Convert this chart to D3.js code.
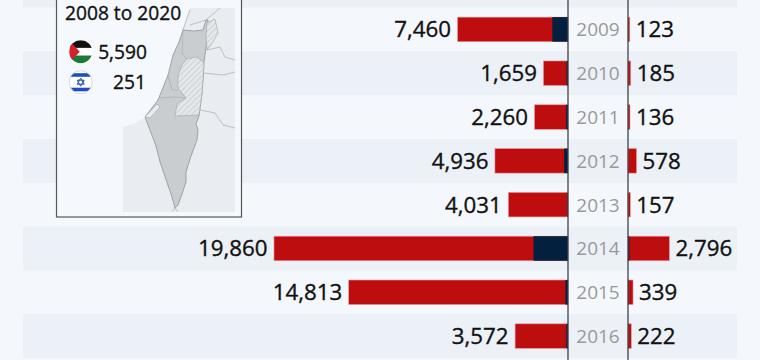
<!DOCTYPE html>
<html>
<head>
<meta charset="utf-8">
<script src="https://cdn.jsdelivr.net/npm/d3@7"></script>
<style>
  html, body { margin: 0; padding: 0; background: #f4f8fc; overflow: hidden; }
  text { font-family: "Open Sans", sans-serif; }
  .heavy { stroke: #111; stroke-width: 0.35px; }
</style>
</head>
<body>
<svg id="chart"></svg>
<script>
// Row layout: 2008 sits mostly above the crop, only its stripe shows
const rowYears = [2008, 2009, 2010, 2011, 2012, 2013, 2014, 2015, 2016];
const years = [2009, 2010, 2011, 2012, 2013, 2014, 2015, 2016];

const palestinianTotal = [7460, 1659, 2260, 4936, 4031, 19860, 14813, 3572];
const palestinianDark = [1060, 95, 125, 260, 40, 2330, 175, 110];
const israeliTotal = [123, 185, 136, 578, 157, 2796, 339, 222];
const israeliDark = [9, 3, 11, 7, 0, 88, 25, 13];

const insetTitle = "2008 to 2020";
const insetPalestinian = "5,590";
const insetIsraeli = "251";

// Outline traces for the inset map (page pixels)
const mapLand = [[123,127],[134,124],[146,117],[158,100],[168,75],[173,55],[179,42],[183,29],[186,18],[190,8],[235,8],[235,212],[123,212]];
const mapIsrael = [[183,30],[194,31],[203,30],[206,20],[208,20],[207,36],[206,48],[204,62],[203,80],[202,93],[200,108],[199,116],[196,124],[198,130],[197,140],[191,156],[186,172],[186,182],[182,194],[178,205],[175,208],[172,197],[160,162],[156,146],[145,117],[158,100],[168,75],[173,55],[179,42]];
const mapWestBank = [[187,59],[197,57],[204,63],[203,80],[202,93],[200,108],[199,115],[175,116],[177,104],[186,98],[178,88],[178,76],[182,65]];
const mapGolan = [[207,23],[215,19],[218,33],[213,42],[207,50],[206,36]];
const mapGaza = [[145,117],[157,104],[160,107],[150,118]];
const mapBorders = [
  [[207,50],[220,47],[225,57],[235,60]],
  [[203,73],[223,75],[235,72]],
  [[200,110],[215,113],[223,125],[235,128]],
  [[183,30],[187,18],[190,10]],
  [[190,25],[206,20],[220,8]],
  [[172,212],[175,208],[178,212]]
];
const mapDistricts = [
  [[183,30],[182,53],[187,59]],
  [[168,75],[172,90],[178,90]],
  [[160,98],[175,97],[186,98]]
];

const width = 760;
const height = 360;
const svg = d3.select("#chart").attr("width", width).attr("height", height);

const rowScale = d3.scaleBand().domain(rowYears).range([-36.3, 358]);
const barScale = d3.scaleBand().domain(rowYears).range([-36.3, 358]).paddingInner(0.44).paddingOuter(0.22);

const leftScale = d3.scaleLinear().domain([0, 19860]).range([568, 274]);
const rightScale = d3.scaleLinear().domain([0, 2796]).range([628, 669.4]);

const red = "#bd0d0f";
const navy = "#04203f";

// Stripes
svg.append("rect").attr("width", width).attr("height", height).attr("fill", "#f4f8fc");
svg.selectAll(".stripe")
  .data(rowYears.filter((d, i) => i % 2 === 0))
  .enter()
  .append("rect")
  .attr("x", 23)
  .attr("width", 714)
  .attr("y", d => rowScale(d))
  .attr("height", rowScale.bandwidth())
  .attr("fill", "#ecf0f7");

const rows = years.map((year, i) => ({
  year,
  leftTotal: palestinianTotal[i],
  leftDark: palestinianDark[i],
  rightTotal: israeliTotal[i],
  rightDark: israeliDark[i]
}));

// Left bars
svg.selectAll(".left-bar")
  .data(rows)
  .enter()
  .append("rect")
  .attr("x", d => leftScale(d.leftTotal))
  .attr("y", d => barScale(d.year))
  .attr("width", d => leftScale(0) - leftScale(d.leftTotal))
  .attr("height", barScale.bandwidth())
  .attr("fill", red)
  .attr("stroke", "#e79a9c")
  .attr("stroke-width", 0.6);

svg.selectAll(".left-dark")
  .data(rows)
  .enter()
  .append("rect")
  .attr("x", d => leftScale(d.leftDark))
  .attr("y", d => barScale(d.year))
  .attr("width", d => leftScale(0) - leftScale(d.leftDark))
  .attr("height", barScale.bandwidth())
  .attr("fill", navy);

// Right bars
svg.selectAll(".right-bar")
  .data(rows)
  .enter()
  .append("rect")
  .attr("x", rightScale(0))
  .attr("y", d => barScale(d.year))
  .attr("width", d => rightScale(d.rightTotal) - rightScale(0))
  .attr("height", barScale.bandwidth())
  .attr("fill", red)
  .attr("stroke", "#e79a9c")
  .attr("stroke-width", 0.6);

svg.selectAll(".right-dark")
  .data(rows)
  .enter()
  .append("rect")
  .attr("x", rightScale(0))
  .attr("y", d => barScale(d.year))
  .attr("width", d => rightScale(d.rightDark) - rightScale(0))
  .attr("height", barScale.bandwidth())
  .attr("fill", navy);

// Value labels
svg.selectAll(".left-label")
  .data(rows)
  .enter()
  .append("text")
  .attr("class", "heavy")
  .attr("x", d => leftScale(d.leftTotal) - 6.5)
  .attr("y", d => rowScale(d.year) + rowScale.bandwidth() / 2 + 8)
  .attr("text-anchor", "end")
  .attr("font-size", 22.3)
  .attr("font-weight", 500)
  .attr("fill", "#111")
  .text(d => d3.format(",")(d.leftTotal));

svg.selectAll(".right-label")
  .data(rows)
  .enter()
  .append("text")
  .attr("class", "heavy")
  .attr("x", d => rightScale(d.rightTotal) + 6)
  .attr("y", d => rowScale(d.year) + rowScale.bandwidth() / 2 + 8)
  .attr("font-size", 22.3)
  .attr("font-weight", 500)
  .attr("fill", "#111")
  .text(d => d3.format(",")(d.rightTotal));

// Year labels between the two axes
svg.selectAll(".year-label")
  .data(rows)
  .enter()
  .append("text")
  .attr("x", 598)
  .attr("y", d => rowScale(d.year) + rowScale.bandwidth() / 2 + 7)
  .attr("text-anchor", "middle")
  .attr("font-size", 19)
  .attr("fill", "#999")
  .text(d => d.year);

// Axis lines
svg.selectAll(".axis-line")
  .data([leftScale(0), rightScale(0)])
  .enter()
  .append("line")
  .attr("x1", d => d)
  .attr("x2", d => d)
  .attr("y1", 0)
  .attr("y2", height)
  .attr("stroke", "#3f4347")
  .attr("stroke-width", 1.3);

// Inset box
const inset = svg.append("g");
inset.append("rect")
  .attr("x", 56.5)
  .attr("y", -10)
  .attr("width", 185)
  .attr("height", 227)
  .attr("fill", "#f5f9fd")
  .attr("stroke", "#555")
  .attr("stroke-width", 1.2);

const defs = svg.append("defs");
defs.append("pattern")
  .attr("id", "hatch")
  .attr("width", 4)
  .attr("height", 4)
  .attr("patternUnits", "userSpaceOnUse")
  .attr("patternTransform", "rotate(-45)")
  .call(p => {
    p.append("rect").attr("width", 4).attr("height", 4).attr("fill", "#e6e9ec");
    p.append("rect").attr("width", 4).attr("height", 1.2).attr("fill", "#cfd3d6");
  });

const outline = d3.line().curve(d3.curveLinearClosed);
const trace = d3.line();

inset.append("path").attr("d", outline(mapLand)).attr("fill", "#e9edf1");
inset.append("path").attr("d", outline(mapIsrael))
  .attr("fill", "#c9cdd0").attr("stroke", "#8d9398").attr("stroke-width", 0.8);
inset.append("path").attr("d", outline(mapWestBank))
  .attr("fill", "url(#hatch)").attr("stroke", "#a0a5aa").attr("stroke-width", 0.6);
inset.append("path").attr("d", outline(mapGolan))
  .attr("fill", "url(#hatch)").attr("stroke", "#a0a5aa").attr("stroke-width", 0.6);
inset.append("path").attr("d", outline(mapGaza))
  .attr("fill", "#e9edf1").attr("stroke", "#a0a5aa").attr("stroke-width", 0.6);
inset.selectAll(".border")
  .data(mapBorders.concat(mapDistricts))
  .enter()
  .append("path")
  .attr("d", d => trace(d))
  .attr("fill", "none")
  .attr("stroke", "#a9aeb3")
  .attr("stroke-width", 0.7);

inset.append("text")
  .attr("class", "heavy")
  .attr("x", 65)
  .attr("y", 20)
  .attr("font-size", 19.2)
  .attr("font-weight", 500)
  .attr("fill", "#111")
  .text(insetTitle);

inset.append("text")
  .attr("class", "heavy")
  .attr("x", 147)
  .attr("y", 59)
  .attr("text-anchor", "end")
  .attr("font-size", 19.2)
  .attr("font-weight", 500)
  .attr("fill", "#111")
  .text(insetPalestinian);

inset.append("text")
  .attr("class", "heavy")
  .attr("x", 146)
  .attr("y", 89)
  .attr("text-anchor", "end")
  .attr("font-size", 19.2)
  .attr("font-weight", 500)
  .attr("fill", "#111")
  .text(insetIsraeli);

// Flags
const flagX = 80.7;
const flagR = 11.5;
const palY = 51.7;
const isrY = 82.2;

defs.append("clipPath").attr("id", "palClip").append("circle")
  .attr("cx", flagX).attr("cy", palY).attr("r", flagR);
defs.append("clipPath").attr("id", "isrClip").append("circle")
  .attr("cx", flagX).attr("cy", isrY).attr("r", flagR);

const pal = inset.append("g").attr("clip-path", "url(#palClip)");
["#111111", "#ffffff", "#1b7a3a"].forEach((c, i) => {
  pal.append("rect")
    .attr("x", flagX - flagR)
    .attr("y", palY - flagR + i * flagR * 2 / 3)
    .attr("width", flagR * 2)
    .attr("height", flagR * 2 / 3 + 0.3)
    .attr("fill", c);
});
pal.append("path")
  .attr("d", outline([[flagX - flagR, palY - flagR], [flagX - 1, palY], [flagX - flagR, palY + flagR]]))
  .attr("fill", "#d3202b");

const isr = inset.append("g").attr("clip-path", "url(#isrClip)");
isr.append("circle").attr("cx", flagX).attr("cy", isrY).attr("r", flagR).attr("fill", "#fff");
[-9, 5.5].forEach(dy => {
  isr.append("rect")
    .attr("x", flagX - flagR)
    .attr("y", isrY + dy)
    .attr("width", flagR * 2)
    .attr("height", 3.6)
    .attr("fill", "#1f4fbf");
});
[[[0, -4], [3.5, 2], [-3.5, 2]], [[0, 4], [3.5, -2], [-3.5, -2]]].forEach(tri => {
  isr.append("path")
    .attr("d", outline(tri.map(p => [flagX + p[0], isrY + p[1]])))
    .attr("fill", "none")
    .attr("stroke", "#1f4fbf")
    .attr("stroke-width", 1);
});
inset.append("circle")
  .attr("cx", flagX).attr("cy", isrY).attr("r", flagR)
  .attr("fill", "none").attr("stroke", "#c8ccd2").attr("stroke-width", 0.7);
</script>
</body>
</html>
